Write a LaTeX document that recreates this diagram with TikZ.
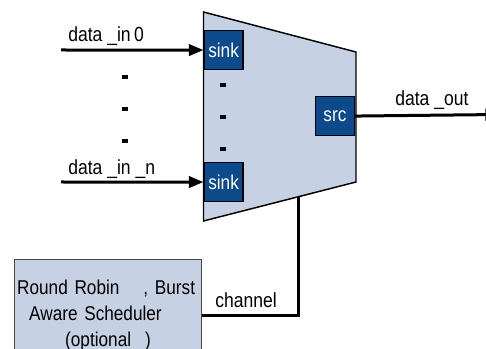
\documentclass[tikz,border=0pt]{standalone}
\usepackage{fontspec}
\setmainfont{Liberation Sans}[FakeStretch=0.86]
\usetikzlibrary{arrows.meta,calc}
\definecolor{muxfill}{RGB}{198,209,227}
\definecolor{portblue}{RGB}{13,74,139}
\definecolor{boxline}{RGB}{70,70,70}

\begin{document}
\begin{tikzpicture}[x=0.75pt, y=-0.75pt,
    port/.style={rectangle, draw=black, fill=portblue, line width=1.1pt,
                 minimum size=29pt, inner sep=0pt, text=white,
                 font=\fontsize{15}{18}\selectfont},
    wire/.style={draw=black, line width=2.25pt},
    arr/.style={wire, -{Triangle[length=11pt, width=8.5pt]}},
    dot/.style={rectangle, fill=black, minimum width=4.8pt,
                minimum height=3.4pt, inner sep=0pt},
    lab/.style={font=\fontsize{15.3}{18}\selectfont, inner sep=0pt, anchor=base west},
    sched/.style={rectangle, draw=boxline, fill=muxfill, line width=0.8pt,
                  font=\fontsize{15}{19.5}\selectfont, align=left,
                  text width=136pt, minimum height=84pt, inner sep=2pt}]
  \useasboundingbox (0,0) rectangle (486,349);
  \clip (0,0) rectangle (486,349);
  % --- the mux body ----------------------------------------------------------
  \coordinate (tl) at (203.5,12);   \coordinate (tr) at (356,52);
  \coordinate (br) at (356,182);    \coordinate (bl) at (203.5,221);
  \filldraw[fill=muxfill, draw=black, line width=1.1pt]
    (tl) -- (tr) -- (br) -- (bl) -- cycle;
  \node[port, anchor=north west] (sink0) at (203.5,30)  {sink};
  \node[port, anchor=north west] (sinkn) at (203.5,162) {sink};
  \node[port, anchor=north east] (src)   at (355,96)    {src};
  \foreach \y [count=\k] in {85,117,149} {
    \node[dot] (din\k)  at (223,\y) {};
    \node[dot] (dout\k) at (125,{\y-8}) {}; }
  % --- inputs and output -------------------------------------------------------
  \coordinate (in0) at (61,50);
  \coordinate (inn) at (61,182);
  \coordinate (out) at (500,114.5);
  \draw[arr] (in0) -- (sink0.west);
  \draw[arr] (inn) -- (sinkn.west);
  \draw[arr] (src.east) -- (out);
  \node[lab] (lin0) at (68,42)  {data \_in\,0};
  \node[lab] (linn) at (68,175) {data \_in \_n};
  \node[lab] (lout) at (395,106) {data \_out};
  % --- scheduler on the channel --------------------------------------------
  \node[sched, anchor=north west] (rr) at (14,259)
    {Round Robin\hspace{1.2em}, Burst\\
     \hspace*{9pt}Aware Scheduler\\
     \hspace*{36pt}(optional\hspace{0.7em})};
  \coordinate (chan) at ($(bl)!0.62!(br)$);
  \draw[wire] (chan) |- (rr.east);
  \node[lab] (lchan) at (215,308) {channel};
\end{tikzpicture}
\end{document}
